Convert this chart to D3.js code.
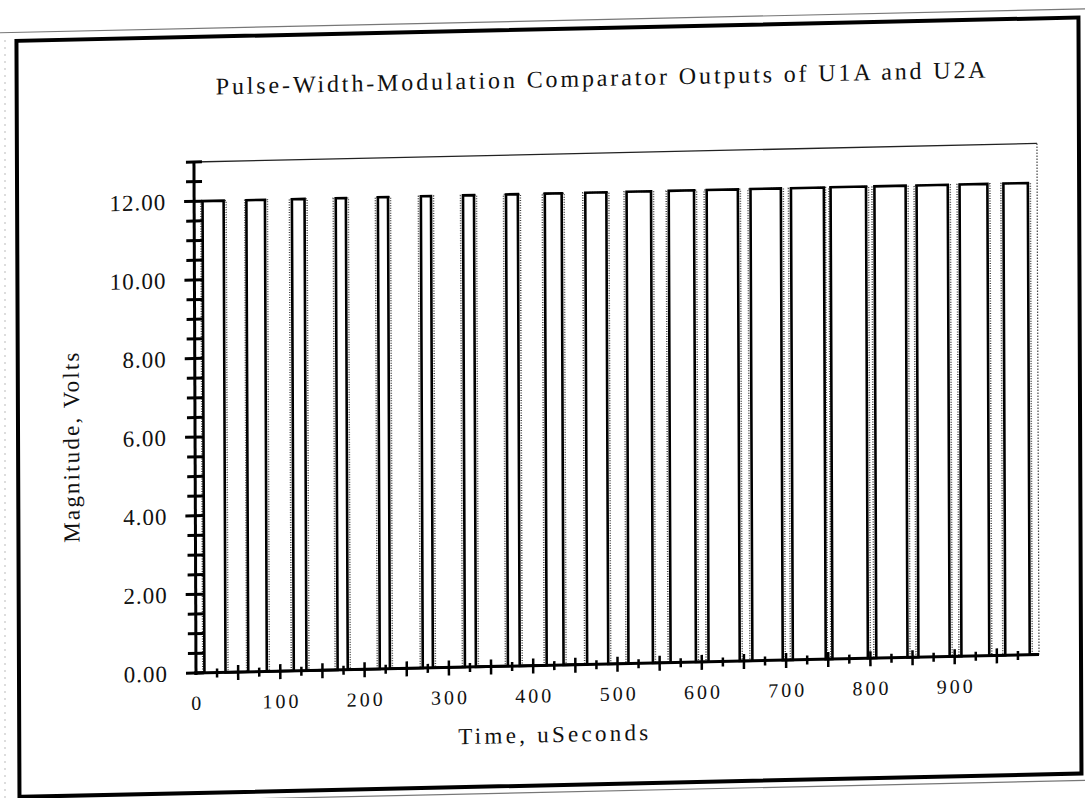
<!DOCTYPE html>
<html>
<head>
<meta charset="utf-8">
<script src="https://cdn.jsdelivr.net/npm/d3@7"></script>
<style>
  body { margin: 0; background: #fff; }
  svg { display: block; }
  text { font-family: "Liberation Serif", "Times New Roman", serif; fill: #111; }
</style>
</head>
<body>
<script>
const width = 1085, height = 798;

// switching edges, uSeconds
const u1aRise = [10, 62, 116, 168, 218, 269, 319, 370, 416, 464, 513, 563, 608, 660, 708, 755, 807, 857, 908, 960];
const u1aFall = [35, 84, 131, 180, 230, 281, 332, 384, 436, 489, 542, 593, 645, 696, 747, 797, 844, 894, 941, 989];
const u2aRise = [8, 60, 113, 165, 215, 266, 316, 367, 413, 461, 510, 560, 605, 657, 705, 753, 804, 854, 905, 957];
const u2aFall = [38, 87, 134, 183, 233, 284, 335, 387, 439, 492, 545, 596, 648, 699, 749, 800, 847, 897, 944, 992];
const pulseHigh = 12.0;   // Volts
const timeEnd = 1000;

const yTickValues = [0, 2, 4, 6, 8, 10, 12];
const yTickLabels = ["0.00", "2.00", "4.00", "6.00", "8.00", "10.00", "12.00"];
const xTickValues = [0, 100, 200, 300, 400, 500, 600, 700, 800, 900];
const xTickLabels = ["0", "100", "200", "300", "400", "500", "600", "700", "800", "900"];

const titleText = "Pulse-Width-Modulation Comparator Outputs of U1A and U2A";
const xTitle = "Time, uSeconds";
const yTitle = "Magnitude, Volts";

function waveform(rise, fall) {
  var pts = [[0, 0]];
  rise.forEach(function(r, i) {
    pts.push([r, 0], [r, pulseHigh], [fall[i], pulseHigh], [fall[i], 0]);
  });
  pts.push([timeEnd, 0]);
  return pts;
}

const svg = d3.select("body").append("svg")
  .attr("width", width)
  .attr("height", height);

// the scanned page is a little sheared, pivot on the chart origin
const px = 196, py = 673;
const g = svg.append("g")
  .attr("transform", "translate(" + px + "," + py + ") matrix(1,-0.022,0.004,1,0,0) translate(" + (-px) + "," + (-py) + ")");

const x = d3.scaleLinear().domain([0, timeEnd]).range([196, 1039]);
const y = d3.scaleLinear().domain([0, 13]).range([673, 162]);

// page edges
g.append("line").attr("x1", -20).attr("x2", 1110).attr("y1", 28.5).attr("y2", 28.5)
  .attr("stroke", "#777").attr("stroke-width", 1.2);
g.append("line").attr("x1", -20).attr("x2", 1110).attr("y1", 800).attr("y2", 800)
  .attr("stroke", "#777").attr("stroke-width", 1.2);
svg.append("line").attr("x1", 5).attr("x2", 5).attr("y1", 40).attr("y2", 798)
  .attr("stroke", "#bbb").attr("stroke-width", 1).attr("stroke-dasharray", "2,5");

// outer frame
g.append("rect")
  .attr("x", 19).attr("y", 37).attr("width", 1062).attr("height", 756)
  .attr("fill", "none").attr("stroke", "#000").attr("stroke-width", 4);

// plot box (top and right)
g.append("line")
  .attr("x1", x(0)).attr("x2", x(timeEnd)).attr("y1", y(13)).attr("y2", y(13))
  .attr("stroke", "#222").attr("stroke-width", 1.3);
g.append("line")
  .attr("x1", x(timeEnd)).attr("x2", x(timeEnd)).attr("y1", y(13)).attr("y2", y(0))
  .attr("stroke", "#444").attr("stroke-width", 1.2).attr("stroke-dasharray", "1.5,1.5");

// waveforms
var line = d3.line().x(function(d) { return x(d[0]); }).y(function(d) { return y(d[1]); });

g.append("path")
  .datum(waveform(u2aRise, u2aFall))
  .attr("d", line)
  .attr("fill", "none")
  .attr("stroke", "#444")
  .attr("stroke-width", 1.5)
  .attr("stroke-dasharray", "1,1.5");

g.append("path")
  .datum(waveform(u1aRise, u1aFall))
  .attr("d", line)
  .attr("fill", "none")
  .attr("stroke", "#000")
  .attr("stroke-width", 2.6)
  .attr("stroke-linejoin", "miter");

// axes lines
g.append("line")
  .attr("x1", x(0)).attr("x2", x(0)).attr("y1", y(0) + 2).attr("y2", y(13))
  .attr("stroke", "#000").attr("stroke-width", 3);
g.append("line")
  .attr("x1", x(0) - 2).attr("x2", x(timeEnd)).attr("y1", y(0)).attr("y2", y(0))
  .attr("stroke", "#000").attr("stroke-width", 3);

// y ticks, crossing the axis
g.selectAll(".ytick")
  .data(d3.range(0, 13.01, 0.5))
  .enter().append("line")
  .attr("class", "ytick")
  .attr("x1", function(d) { return x(0) - (d % 2 == 0 ? 10 : 8); })
  .attr("x2", function(d) { return x(0) + 8; })
  .attr("y1", function(d) { return y(d); })
  .attr("y2", function(d) { return y(d); })
  .attr("stroke", "#000").attr("stroke-width", 3);

// x ticks every 25, longer every 50
g.selectAll(".xtick")
  .data(d3.range(25, timeEnd, 25))
  .enter().append("line")
  .attr("class", "xtick")
  .attr("x1", function(d) { return x(d); })
  .attr("x2", function(d) { return x(d); })
  .attr("y1", function(d) { return y(0) - (d % 50 == 0 ? 7 : 4); })
  .attr("y2", function(d) { return y(0) + (d % 50 == 0 ? 8 : 5); })
  .attr("stroke", "#000").attr("stroke-width", 2.5);

// tick labels
g.selectAll(".ylab")
  .data(yTickValues)
  .enter().append("text")
  .attr("class", "ylab")
  .attr("x", 168)
  .attr("y", function(d) { return y(d) + 8; })
  .attr("text-anchor", "end")
  .style("font-size", "23px")
  .style("letter-spacing", "1px")
  .text(function(d, i) { return yTickLabels[i]; });

g.selectAll(".xlab")
  .data(xTickValues)
  .enter().append("text")
  .attr("class", "xlab")
  .attr("x", function(d) { return x(d) + 1.5; })
  .attr("y", y(0) + 37)
  .attr("text-anchor", "middle")
  .style("font-size", "20px")
  .style("letter-spacing", "3px")
  .text(function(d, i) { return xTickLabels[i]; });

// titles
g.append("text")
  .attr("x", 603).attr("y", 95)
  .attr("text-anchor", "middle")
  .attr("textLength", 770).attr("lengthAdjust", "spacing")
  .style("font-size", "24px")
  .text(titleText);

g.append("text")
  .attr("x", 553).attr("y", 750)
  .attr("text-anchor", "middle")
  .attr("textLength", 190).attr("lengthAdjust", "spacing")
  .style("font-size", "23px")
  .text(xTitle);

g.append("text")
  .attr("transform", "translate(80,445) rotate(-90)")
  .attr("text-anchor", "middle")
  .attr("textLength", 190).attr("lengthAdjust", "spacing")
  .style("font-size", "23px")
  .text(yTitle);
</script>
</body>
</html>
